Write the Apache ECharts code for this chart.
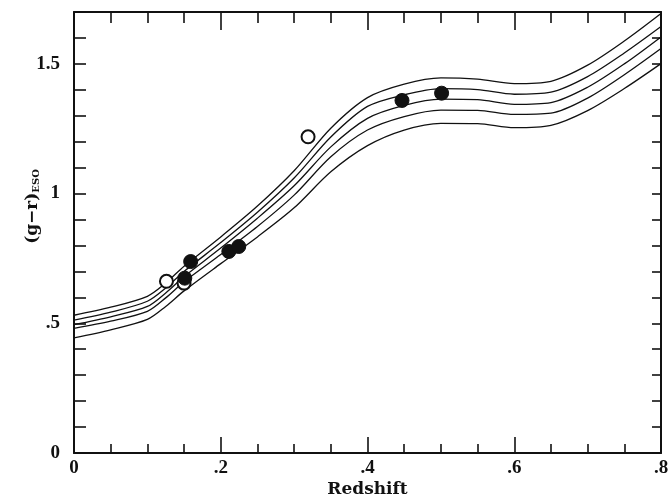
<!DOCTYPE html>
<html><head><meta charset="utf-8">
<script src="https://cdn.jsdelivr.net/npm/echarts@6/dist/echarts.min.js"></script>
<style>html,body{margin:0;padding:0;background:#fff}#c{width:669px;height:498px}</style>
</head><body><div id="c"></div>
<script>
// ---- data ----
const redshiftGrid = [0,0.05,0.1,0.125,0.15,0.2,0.25,0.3,0.35,0.4,0.45,0.5,0.55,0.6,0.65,0.7,0.75,0.8];
const track1 = [0.531,0.562,0.604,0.655,0.720,0.833,0.952,1.088,1.252,1.370,1.422,1.446,1.441,1.424,1.433,1.495,1.588,1.694];
const track2 = [0.512,0.543,0.585,0.636,0.700,0.811,0.928,1.060,1.218,1.336,1.381,1.405,1.401,1.383,1.391,1.451,1.542,1.644];
const track3 = [0.495,0.525,0.565,0.617,0.680,0.790,0.905,1.030,1.180,1.290,1.340,1.364,1.362,1.344,1.351,1.410,1.500,1.604];
const track4 = [0.480,0.508,0.546,0.598,0.660,0.765,0.873,0.994,1.142,1.245,1.297,1.322,1.321,1.305,1.310,1.368,1.458,1.559];
const track5 = [0.444,0.475,0.515,0.565,0.625,0.730,0.833,0.945,1.084,1.185,1.245,1.271,1.270,1.254,1.263,1.320,1.405,1.501];
const filledZ = [0.151,0.159,0.211,0.2245,0.447,0.501];
const filledColor = [0.674,0.738,0.777,0.796,1.359,1.387];
const openZ = [0.126,0.150,0.319];
const openColor = [0.662,0.655,1.219];
const xTickLabels = {'0':'0','0.2':'.2','0.4':'.4','0.6':'.6','0.8':'.8'};
const yTickLabels = {'0':'0','0.5':'.5','1':'1','1.5':'1.5'};

// ---- chart ----
const chart = echarts.init(document.getElementById('c'), null, {renderer:'canvas'});
const FONT = 'DejaVu Serif';
const TICKFONT = 'Liberation Serif';
const INK = '#111';
function key(v){ return String(Math.round(v*10)/10); }
const lbl = {fontFamily:TICKFONT, fontWeight:'bold', fontSize:19, color:INK};
const tracks = [track1,track2,track3,track4,track5].map(t => ({
  type:'line', data: redshiftGrid.map((z,i)=>[z,t[i]]), smooth:0.3, showSymbol:false,
  lineStyle:{color:INK, width:1.3}, silent:true, z:2
}));
chart.setOption({
  backgroundColor:'#fff',
  animation:false,
  grid:{left:74, right:8, top:12, bottom:45, outerBoundsMode:'none', containLabel:false},
  xAxis:[
    {type:'value', min:0, max:0.8, interval:0.2, position:'bottom', splitLine:{show:false},
      axisLine:{show:true, onZero:false, lineStyle:{color:INK,width:2}},
      axisTick:{inside:true, length:16, lineStyle:{color:INK,width:1.6}},
      minorTick:{show:true, splitNumber:4, length:9, lineStyle:{color:INK,width:1.6}},
      axisLabel:Object.assign({margin:6, formatter:v=>xTickLabels[key(v)]||''}, lbl),
      name:'Redshift', nameLocation:'middle', nameGap:28, nameMoveOverlap:false,
      nameTextStyle:{fontFamily:FONT, fontWeight:'bold', fontSize:17, color:INK}},
    {type:'value', min:0, max:0.8, interval:0.2, position:'top', splitLine:{show:false},
      axisLine:{show:true, onZero:false, lineStyle:{color:INK,width:2}},
      axisTick:{inside:true, length:18, lineStyle:{color:INK,width:1.6}},
      minorTick:{show:true, splitNumber:4, length:11, lineStyle:{color:INK,width:1.6}},
      axisLabel:{show:false}}
  ],
  yAxis:[
    {type:'value', min:0, max:1.7, interval:0.1, position:'left', splitLine:{show:false},
      axisLine:{show:true, onZero:false, lineStyle:{color:INK,width:2}},
      axisTick:{inside:true, length:12, lineStyle:{color:INK,width:1.6}},
      axisLabel:Object.assign({margin:14, formatter:v=>yTickLabels[key(v)]||''}, lbl),
      name:'{a|(g\u2212r)}{b|ESO}', nameLocation:'middle', nameGap:33, nameMoveOverlap:false,
      nameTextStyle:{padding:[0,0,0,52], rich:{
        a:{fontFamily:FONT, fontWeight:'bold', fontSize:17, color:INK, lineHeight:17, verticalAlign:'top'},
        b:{fontFamily:FONT, fontWeight:'bold', fontSize:10, color:INK, lineHeight:10, padding:[10,0,0,0], verticalAlign:'bottom'}
      }}},
    {type:'value', min:0, max:1.7, interval:0.1, position:'right', splitLine:{show:false},
      axisLine:{show:true, onZero:false, lineStyle:{color:INK,width:2}},
      axisTick:{inside:true, length:9, lineStyle:{color:INK,width:1.6}}, axisLabel:{show:false}}
  ],
  series: tracks.concat([
    {type:'scatter', data: openZ.map((z,i)=>[z,openColor[i]]), symbol:'circle', symbolSize:13,
      itemStyle:{color:'#fff', borderColor:INK, borderWidth:2, opacity:1}, z:5},
    {type:'scatter', data: filledZ.map((z,i)=>[z,filledColor[i]]), symbol:'circle', symbolSize:14,
      itemStyle:{color:INK, borderColor:INK, borderWidth:1, opacity:1}, z:6}
  ])
});
</script>
</body></html>
